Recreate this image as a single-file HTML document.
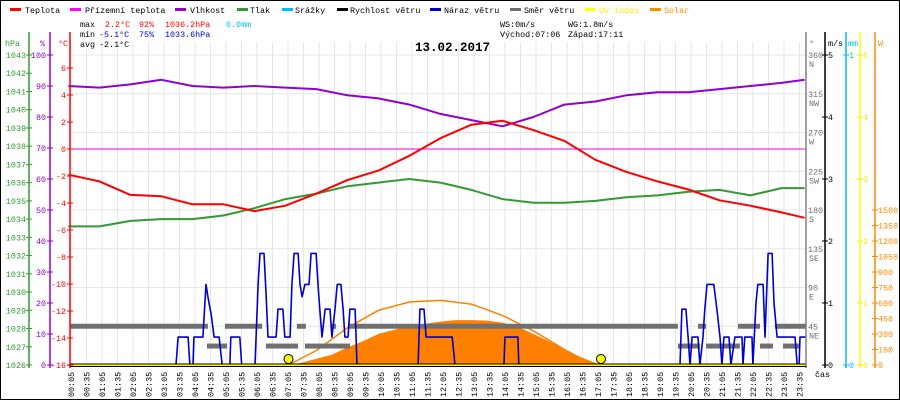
<!DOCTYPE html>
<html><head><meta charset="utf-8">
<style>
html,body{margin:0;padding:0;background:#fff;}
svg{display:block;font-family:"Liberation Mono",monospace;}
</style></head>
<body>
<svg id="chart" width="900" height="400" viewBox="0 0 900 400" xmlns="http://www.w3.org/2000/svg">
<rect x="0.5" y="0.5" width="899" height="399" fill="#fff" stroke="#000"/>
<g id="grid"></g>
<g id="series"></g>
<g id="axes"></g>
<g font-size="8.4">
 <rect x="10" y="8" width="11" height="3" fill="#f00"/><text x="25" y="13">Teplota</text>
 <rect x="70" y="8" width="11" height="3" fill="#f0f"/><text x="85" y="13">Přízemní teplota</text>
 <rect x="175" y="8" width="11" height="3" fill="#90c"/><text x="190" y="13">Vlhkost</text>
 <rect x="237" y="8" width="11" height="3" fill="#393"/><text x="250" y="13">Tlak</text>
 <rect x="282" y="8" width="11" height="3" fill="#0bf"/><text x="295" y="13">Srážky</text>
 <rect x="337" y="8" width="11" height="3" fill="#000"/><text x="350" y="13">Rychlost větru</text>
 <rect x="430" y="8" width="11" height="3" fill="#00c"/><text x="444" y="13">Náraz větru</text>
 <rect x="510" y="8" width="11" height="3" fill="#707070"/><text x="524" y="13">Směr větru</text>
 <rect x="585" y="8" width="11" height="3" fill="#ff0"/><text x="599" y="13" fill="#ee0">UV index</text>
 <rect x="650" y="8" width="11" height="3" fill="#f80"/><text x="664" y="13" fill="#f80">Solar</text>
</g>
<g font-size="8.4">
 <text y="27"><tspan x="80">max</tspan><tspan x="105" fill="#f00">2.2°C</tspan><tspan x="139" fill="#f00">92%</tspan><tspan x="165" fill="#f00">1036.2hPa</tspan><tspan x="226" fill="#0bf">0.0mm</tspan></text>
 <text y="37"><tspan x="80">min</tspan><tspan x="99" fill="#00c">-5.1°C</tspan><tspan x="139" fill="#00c">75%</tspan><tspan x="165" fill="#00c">1033.6hPa</tspan></text>
 <text y="47"><tspan x="80">avg</tspan><tspan x="99">-2.1°C</tspan></text>
 <text x="500" y="27">WS:0m/s</text>
 <text x="568" y="27">WG:1.8m/s</text>
 <text x="500" y="37">Východ:07:06</text>
 <text x="568" y="37">Západ:17:11</text>
</g>
<text x="415" y="51" font-size="12.5" font-weight="bold">13.02.2017</text>
</svg>
<script>
const tempHours=[0,1,2,3,4,5,6,7,8,9,10,11,12,13,14,15,16,17,18,19,20,21,22,23,23.75];
const tempValues=[-1.9,-2.4,-3.4,-3.5,-4.1,-4.1,-4.6,-4.2,-3.3,-2.3,-1.6,-0.5,0.8,1.8,2.1,1.4,0.6,-0.8,-1.7,-2.4,-3.0,-3.8,-4.2,-4.7,-5.1];
const humValues=[90,89.5,90.5,92,90,89.5,90,89.5,89,87,86,84,81,79,77,80,84,85,87,88,88,89,90,91,92];
const pressValues=[1033.6,1033.6,1033.9,1034.0,1034.0,1034.2,1034.6,1035.1,1035.4,1035.8,1036.0,1036.2,1036.0,1035.6,1035.1,1034.9,1034.9,1035.0,1035.2,1035.3,1035.5,1035.6,1035.3,1035.7,1035.7];
const gustHours=[0,3.47,3.54,3.86,3.92,4.02,4.05,4.34,4.44,4.50,4.61,4.70,4.86,4.96,5.21,5.24,5.53,5.59,6.02,6.12,6.18,6.31,6.37,6.44,6.70,6.76,6.92,6.98,7.15,7.21,7.28,7.41,7.47,7.54,7.63,7.76,7.83,7.99,8.05,8.11,8.18,8.28,8.44,8.50,8.60,8.67,8.79,8.86,8.92,9.02,9.08,9.25,9.31,11.28,11.34,11.47,11.54,12.38,12.47,14.05,14.08,14.50,14.53,19.73,19.79,19.92,19.99,20.05,20.12,20.31,20.37,20.47,20.53,20.60,20.82,20.92,21.02,21.08,21.15,21.31,21.37,21.50,21.73,21.76,21.82,22.05,22.08,22.18,22.24,22.41,22.47,22.57,22.70,22.76,22.86,23.44,23.51,23.57,23.60,23.79];
const gustValues=[0,0,0.45,0.45,0,0,0.45,0.45,1.3,1.1,0.8,0.45,0.45,0,0,0.45,0.45,0,0,1.3,1.8,1.8,1.2,0.45,0.45,0.9,0.9,0.45,0.45,1.3,1.8,1.8,1.3,1.1,1.3,1.3,1.8,1.8,1.3,0.9,0.45,0.9,0.9,0.45,0.9,1.3,1.3,0.9,0.45,0.45,0.9,0.9,0,0,0.9,0.9,0.45,0.45,0,0,0.45,0.45,0,0,0.9,0.9,0.45,0,0.45,0.45,0,0.45,0.9,1.3,1.3,0.9,0.45,0,0.45,0.45,0,0.45,0.45,0,0.45,0.45,0,1.0,1.3,1.3,0.45,1.8,1.8,1.0,0.45,0.45,0,0,0.45,0.45];
const dirStart=[0.05,5.05,7.37,8.50,9.02,20.31,21.60,22.79,4.47,6.37,7.63,19.66,20.57,22.31,23.05];
const dirEnd=[4.50,6.25,7.66,8.63,19.66,20.57,22.31,23.79,5.12,7.41,9.08,20.37,21.66,22.73,23.60];
const dirValues=[45,45,45,45,45,45,45,45,22,22,22,22,22,22,22];
const solarHours=[7.1,7.5,8,8.5,9,9.5,10,10.5,11,11.5,12,12.5,13,13.5,14,14.5,15,15.5,16,16.5,17,17.2];
const solarValues=[0,20,60,100,170,230,300,340,380,400,420,435,435,430,410,370,300,230,150,80,20,0];
const theoHours=[7.1,8,9,10,11,12,13,14,15,15.5,16,16.5,17,17.18];
const theoValues=[0,140,360,530,610,625,590,480,330,240,150,70,10,0];
const sunEvents=[7.1,17.18];
const hpaTicks=[1026,1027,1028,1029,1030,1031,1032,1033,1034,1035,1036,1037,1038,1039,1040,1041,1042,1043];
const pctTicks=[0,10,20,30,40,50,60,70,80,90,100];
const tempTicks=[-16,-14,-12,-10,-8,-6,-4,-2,0,2,4,6];
const dirTicks=[45,90,135,180,225,270,315,360];
const dirNames=["NE","E","SE","S","SW","W","NW","N"];
const msTicks=[0,1,2,3,4,5];
const uvTicks=[0,1,2,3,4,5];
const wTicks=[0,150,300,450,600,750,900,1050,1200,1350,1500];

const X=h=>68.4+h*31;
const yT=t=>149-t*13.5;
const yH=p=>365-p*3.1;
const yP=p=>55+(1043-p)*18.235;
const yV=v=>365-v*62;
const yD=d=>365-d*0.8611;
const yW=w=>365-w*0.1033;
const NS="http://www.w3.org/2000/svg";
function mk(tag,parent,attrs){const e=document.createElementNS(NS,tag);for(const k in attrs)e.setAttribute(k,attrs[k]);parent.appendChild(e);return e;}
const grid=document.getElementById('grid'),series=document.getElementById('series'),axes=document.getElementById('axes');

for(let i=0;i<48;i++){
 const h=(5+30*i)/60;const x=X(h);
 const gl=mk('line',grid,{x1:x,x2:x,y1:42,y2:365,stroke:'#e6e6e6'});
 
 
 const hh=String(Math.floor(h)).padStart(2,'0'),mm=String((5+30*i)%60).padStart(2,'0');
 const t=mk('text',axes,{x:0,y:0,transform:`translate(${x+3},397) rotate(-90)`,'font-size':'8.4'});
 t.textContent=hh+':'+mm;
 
 
}
dirTicks.forEach(d=>{const y=yD(d);const gl=mk('line',grid,{x1:70,x2:806,y1:y,y2:y,stroke:'#e6e6e6'});
 
 });
const zl=mk('line',grid,{x1:70,x2:806,y1:yT(0),y2:yT(0),stroke:'#e0e'});



function poly(hs,vs,f,color,w,name){
 const pts=hs.map((h,i)=>X(h).toFixed(1)+','+f(vs[i]).toFixed(1)).join(' ');
 const p=mk('polyline',series,{points:pts,fill:'none',stroke:color,'stroke-width':w,'stroke-linejoin':'round'});
 
 
}
{
 let pts=X(solarHours[0])+','+yW(0)+' '+solarHours.map((h,i)=>X(h).toFixed(1)+','+yW(solarValues[i]).toFixed(1)).join(' ')+' '+X(solarHours[solarHours.length-1])+','+yW(0);
 const p=mk('polygon',series,{points:pts,fill:'#ff8000'});
 
 
}
poly(theoHours,theoValues,yW,'#ff8000',1.5,'solar-theoretical-line');
dirStart.forEach((s,i)=>{const y=yD(dirValues[i]);
 const r=mk('rect',series,{x:X(s),y:y-2.5,width:X(dirEnd[i])-X(s),height:5,fill:'#707070'});
 
 });
poly(gustHours,gustValues,yV,'#0000cc',1.6,'gust-line');
poly(tempHours,humValues,yH,'#9000d0',2,'humidity-line');
poly(tempHours,pressValues,yP,'#339933',2,'pressure-line');
poly(tempHours,tempValues,yT,'#ff0000',2,'temperature-line');
{const u=mk('line',series,{x1:70,x2:806,y1:365.5,y2:365.5,stroke:'#ffff00','stroke-width':3});
 
 
 const w=mk('line',series,{x1:70,x2:806,y1:364,y2:364,stroke:'#000','stroke-width':1});
 
 }
sunEvents.forEach(h=>{const c=mk('circle',series,{cx:X(h),cy:359,r:4.5,fill:'#ff0',stroke:'#000'});
 
 });

function vaxis(x,y1,y2,color,name){const l=mk('line',axes,{x1:x,x2:x,y1:y1,y2:y2,stroke:color,'stroke-width':1.5});
 
 }
function ticks(vals,f,x,color,anchor,dx,name){
 vals.forEach(v=>{const y=f(v);
  const tk=mk('line',axes,{x1:x-3,x2:x+3,y1:y,y2:y,stroke:color});
  
  
  const t=mk('text',axes,{x:x+dx,y:y+3,fill:color,'text-anchor':anchor,'font-size':'8.4'});
  t.textContent=v;
  
  });}
vaxis(29,32,368,'#339933','hpa-axis');
vaxis(50,32,368,'#9000d0','humidity-axis');
vaxis(70,32,368,'#ff0000','temp-axis');
ticks(hpaTicks,yP,29,'#339933','end',-3,'hpa');
ticks(pctTicks,yH,50,'#9000d0','end',-4,'humidity');
ticks(tempTicks,yT,70,'#ff0000','end',-4,'temp');
vaxis(806,32,368,'#808080','direction-axis');
vaxis(825,32,368,'#000','wind-speed-axis');
vaxis(846,32,368,'#0bf','rain-axis');
vaxis(860,32,368,'#ff0','uv-axis');
vaxis(875,32,368,'#f80','solar-axis');
dirTicks.forEach((d,i)=>{const y=yD(d);
 const t=mk('text',axes,{x:808,y:y+3,fill:'#707070','font-size':'8.4'});t.textContent=d;
 
 
 const n=mk('text',axes,{x:809,y:y+12,fill:'#707070','font-size':'8.4'});n.textContent=dirNames[i];
 
 });
ticks(msTicks,yV,825,'#000','start',3,'wind-speed');
ticks([0,1],v=>365-v*310,846,'#0bf','start',3,'rain');
ticks(uvTicks,v=>365-v*62,860,'#ee0','start',3,'uv');
ticks(wTicks,yW,875,'#f80','start',3,'solar');
const unitLabels=[[5,'hPa','#339933'],[40,'%','#9000d0'],[58,'°C','#f00'],[809,'°','#707070'],[828,'m/s','#000'],[848,'mm','#0bf'],[878,'W','#f80']];
unitLabels.forEach(u=>{const t=mk('text',axes,{x:u[0],y:46,fill:u[2],'font-size':'8.4'});t.textContent=u[1];
 
 });
{const t=mk('text',axes,{x:815,y:377,'font-size':'8.4'});t.textContent='čas';
 
 
 const l=mk('line',axes,{x1:70,x2:806,y1:366.5,y2:366.5,stroke:'#000'});
 
 }
</script>
</body></html>
